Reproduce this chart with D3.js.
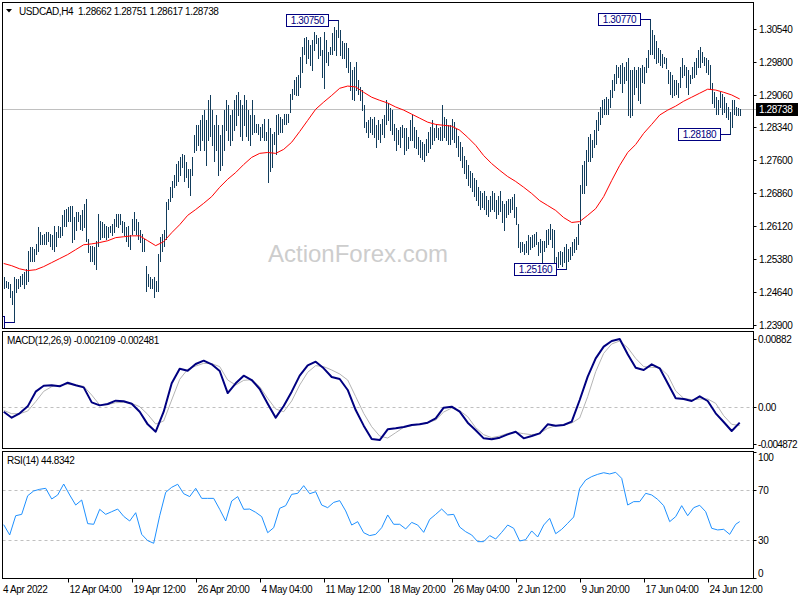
<!DOCTYPE html>
<html><head><meta charset="utf-8">
<script src="https://cdn.jsdelivr.net/npm/d3@7"></script>
<style>body{margin:0;background:#fff}svg{display:block}text{font-family:"Liberation Sans",Arial,sans-serif;letter-spacing:-0.4px}</style>
</head><body><svg id="c" width="800" height="600"></svg>
<script>
// ---------- DATA ----------
const symbol = "USDCAD,H4";
const lastOHLC = ["1.28662","1.28751","1.28617","1.28738"];
const lastClose = 1.28738;
const highs = [
1.2498,1.2489,1.2487,1.2482,1.2467,1.2497,1.2493,1.2493,1.2501,1.2504,1.2508,1.2516,1.2557,1.2564,1.2564,1.2561,1.2572,1.2609,1.2598,1.2591,
1.2594,1.2598,1.2598,1.2594,1.2591,1.2613,1.2598,1.2613,1.2609,1.2636,1.2647,1.2651,1.2654,1.2658,1.2658,1.2632,1.2643,1.2643,1.2636,1.2647,
1.2662,1.2673,1.2583,1.2568,1.2568,1.2564,1.2579,1.2639,1.2624,1.2621,1.2617,1.2613,1.2609,1.2613,1.2617,1.2628,1.2639,1.2639,1.2639,1.2624,
1.2621,1.2609,1.2613,1.2591,1.2628,1.2643,1.2628,1.2621,1.2602,1.2594,1.2583,1.2523,1.2504,1.2497,1.2493,1.2497,1.2489,1.2549,1.2587,1.2594,
1.2602,1.2666,1.2673,1.2699,1.2714,1.2726,1.2752,1.2759,1.2767,1.2774,1.2771,1.2756,1.2741,1.2741,1.2767,1.2816,1.2838,1.2838,1.2849,1.2860,
1.2872,1.2849,1.2894,1.2905,1.2872,1.2838,1.2860,1.2838,1.2816,1.2838,1.2872,1.2894,1.2883,1.2860,1.2872,1.2894,1.2905,1.2912,1.2894,1.2883,
1.2905,1.2894,1.2872,1.2860,1.2894,1.2860,1.2842,1.2842,1.2834,1.2842,1.2853,1.2823,1.2853,1.2831,1.2819,1.2823,1.2860,1.2864,1.2857,1.2853,
1.2864,1.2864,1.2864,1.2909,1.2920,1.2939,1.2947,1.2951,1.2992,1.3014,1.3033,1.3037,1.3029,1.3018,1.3029,1.3048,1.3041,1.3033,1.3037,1.3007,
1.3048,1.3029,1.3003,1.3014,1.3044,1.3059,1.3052,1.3075,1.3052,1.3026,1.3022,1.3022,1.3011,1.2981,1.2962,1.2969,1.2981,1.2939,1.2924,1.2917,
1.2883,1.2846,1.2849,1.2857,1.2853,1.2857,1.2838,1.2849,1.2842,1.2853,1.2860,1.2894,1.2887,1.2876,1.2872,1.2842,1.2831,1.2827,1.2834,1.2838,
1.2831,1.2831,1.2812,1.2849,1.2860,1.2834,1.2827,1.2812,1.2804,1.2801,1.2797,1.2808,1.2823,1.2834,1.2849,1.2831,1.2842,1.2831,1.2834,1.2883,
1.2857,1.2853,1.2838,1.2838,1.2853,1.2845,1.2830,1.2815,1.2800,1.2790,1.2770,1.2760,1.2750,1.2735,1.2730,1.2720,1.2715,1.2700,1.2690,1.2685,
1.2690,1.2680,1.2670,1.2680,1.2690,1.2685,1.2670,1.2680,1.2690,1.2669,1.2662,1.2669,1.2673,1.2673,1.2677,1.2684,1.2654,1.2617,1.2576,1.2576,
1.2572,1.2579,1.2591,1.2587,1.2591,1.2594,1.2598,1.2576,1.2583,1.2579,1.2579,1.2602,1.2606,1.2617,1.2606,1.2602,1.2542,1.2553,1.2557,1.2553,
1.2564,1.2572,1.2561,1.2564,1.2576,1.2583,1.2587,1.2617,1.2703,1.2748,1.2759,1.2782,1.2812,1.2819,1.2804,1.2827,1.2849,1.2868,1.2879,1.2894,
1.2898,1.2902,1.2898,1.2917,1.2939,1.2954,1.2973,1.2969,1.2973,1.2977,1.2969,1.2981,1.2988,1.2962,1.2962,1.2969,1.2962,1.2969,1.2966,1.2973,
1.2969,1.2988,1.3007,1.3077,1.3052,1.3041,1.3026,1.3011,1.3007,1.2999,1.2992,1.2988,1.2962,1.2958,1.2951,1.2939,1.2939,1.2932,1.2969,1.2988,
1.2973,1.2969,1.2962,1.2951,1.2969,1.2981,1.2988,1.3007,1.3014,1.3003,1.2992,1.2988,1.2984,1.2973,1.2932,1.2913,1.2902,1.2894,1.2913,1.2909,
1.2902,1.2887,1.2879,1.2868,1.2894,1.2894,1.2879,1.2876,1.28751];
const lows = [
1.2474,1.2476,1.2474,1.2452,1.2437,1.2397,1.2463,1.2474,1.2478,1.2482,1.2474,1.2482,1.2489,1.2534,1.2534,1.2534,1.2549,1.2557,1.2572,1.2572,
1.2572,1.2572,1.2579,1.2568,1.2561,1.2557,1.2568,1.2587,1.2587,1.2591,1.2613,1.2613,1.2624,1.2624,1.2576,1.2583,1.2602,1.2624,1.2606,1.2602,
1.2609,1.2579,1.2553,1.2534,1.2534,1.2527,1.2516,1.2568,1.2583,1.2587,1.2587,1.2583,1.2587,1.2598,1.2591,1.2598,1.2613,1.2609,1.2617,1.2598,
1.2591,1.2579,1.2568,1.2561,1.2594,1.2602,1.2594,1.2583,1.2576,1.2557,1.2557,1.2467,1.2478,1.2474,1.2474,1.2452,1.2467,1.2467,1.2534,1.2557,
1.2568,1.2583,1.2651,1.2669,1.2677,1.2699,1.2703,1.2714,1.2726,1.2744,1.2714,1.2722,1.2699,1.2681,1.2726,1.2777,1.2782,1.2793,1.2782,1.2804,
1.2782,1.2748,1.2804,1.2815,1.2793,1.2759,1.2782,1.2726,1.2737,1.2748,1.2782,1.2827,1.2804,1.2793,1.2804,1.2827,1.2838,1.2860,1.2815,1.2804,
1.2838,1.2815,1.2804,1.2793,1.2819,1.2823,1.2823,1.2819,1.2804,1.2812,1.2804,1.2804,1.2710,1.2735,1.2745,1.2797,1.2774,1.2819,1.2823,1.2823,
1.2842,1.2842,1.2846,1.2868,1.2898,1.2909,1.2906,1.2906,1.2924,1.2958,1.2999,1.2977,1.2988,1.2973,1.2962,1.3007,1.3022,1.2988,1.2996,1.2947,
1.2921,1.2981,1.2973,1.2999,1.2999,1.3007,1.2996,1.3037,1.2996,1.2988,1.2988,1.2969,1.2958,1.2917,1.2898,1.2894,1.2917,1.2909,1.2894,1.2872,
1.2834,1.2823,1.2812,1.2823,1.2819,1.2812,1.2789,1.2808,1.2801,1.2819,1.2812,1.2842,1.2849,1.2827,1.2819,1.2804,1.2782,1.2797,1.2789,1.2812,
1.2774,1.2782,1.2786,1.2804,1.2804,1.2789,1.2786,1.2774,1.2767,1.2763,1.2759,1.2771,1.2778,1.2786,1.2797,1.2804,1.2812,1.2808,1.2804,1.2804,
1.2812,1.2804,1.2797,1.2797,1.2808,1.2801,1.2790,1.2770,1.2760,1.2745,1.2730,1.2720,1.2705,1.2700,1.2690,1.2680,1.2670,1.2660,1.2650,1.2655,
1.2650,1.2640,1.2635,1.2645,1.2650,1.2645,1.2630,1.2640,1.2645,1.2621,1.2602,1.2632,1.2639,1.2643,1.2651,1.2632,1.2617,1.2564,1.2553,1.2557,
1.2549,1.2553,1.2549,1.2561,1.2564,1.2568,1.2572,1.2546,1.2553,1.2527,1.2557,1.2564,1.2572,1.2583,1.2564,1.2531,1.2519,1.2519,1.2527,1.2523,
1.2531,1.2516,1.2534,1.2538,1.2546,1.2553,1.2561,1.2572,1.2617,1.2687,1.2685,1.2703,1.2759,1.2759,1.2767,1.2789,1.2797,1.2827,1.2842,1.2857,
1.2864,1.2864,1.2864,1.2879,1.2902,1.2917,1.2932,1.2947,1.2932,1.2913,1.2932,1.2939,1.2861,1.2857,1.2861,1.2909,1.2924,1.2894,1.2887,1.2936,
1.2932,1.2958,1.2969,1.2999,1.2999,1.2988,1.2977,1.2981,1.2973,1.2969,1.2977,1.2966,1.2932,1.2909,1.2902,1.2906,1.2909,1.2902,1.2924,1.2947,
1.2951,1.2924,1.2909,1.2932,1.2943,1.2947,1.2954,1.2969,1.2969,1.2981,1.2973,1.2958,1.2954,1.2921,1.2887,1.2879,1.2864,1.2864,1.2879,1.2864,
1.2868,1.2857,1.2853,1.2818,1.2834,1.2864,1.2861,1.2861,1.28617];
// moving average (red), sampled every 4 bars
const maLine = [1.2528,1.2523,1.2516,1.2512,1.2514,1.2521,1.2530,1.2539,1.2548,1.2559,
1.2570,1.2572,1.2575,1.2579,1.2586,1.2588,1.2590,1.2590,1.2579,1.2568,
1.2577,1.2597,1.2615,1.2636,1.2649,1.2663,1.2678,1.2699,1.2717,1.2732,
1.2750,1.2766,1.2775,1.2777,1.2775,1.2784,1.2800,1.2824,1.2849,1.2874,
1.2890,1.2905,1.2921,1.2926,1.2924,1.2912,1.2901,1.2894,1.2888,1.2879,
1.2872,1.2863,1.2854,1.2845,1.2840,1.2838,1.2836,1.2827,1.2811,1.2793,
1.2770,1.2752,1.2737,1.2723,1.2712,1.2699,1.2685,1.2669,1.2658,1.2647,
1.2631,1.2620,1.2622,1.2636,1.2651,1.2678,1.2714,1.2748,1.2777,1.2795,
1.2820,1.2840,1.2861,1.2872,1.2881,1.2892,1.2901,1.2910,1.2919,1.2917,
1.2912,1.2906,1.2897];
// MACD main and signal, sampled every 4 bars
const macdMain = [-0.00068,-0.00146,-0.00089,0.00002,0.00194,0.00272,0.00277,0.00264,0.00311,0.00277,
0.00250,0.00054,0.00015,0.00033,0.00076,0.00068,0.00037,-0.00068,-0.00233,-0.00329,
-0.00068,0.00303,0.00494,0.00468,0.00555,0.00599,0.00551,0.00464,0.00176,0.00303,
0.00403,0.00346,0.00229,0.00037,-0.00146,0.00007,0.00194,0.00403,0.00538,0.00586,
0.00499,0.00386,0.00359,0.00216,-0.00046,-0.00250,-0.00425,-0.00438,-0.00298,-0.00285,
-0.00268,-0.00242,-0.00233,-0.00211,-0.00155,-0.00015,-0.00002,-0.00068,-0.00211,-0.00311,
-0.00416,-0.00429,-0.00407,-0.00364,-0.00329,-0.00416,-0.00386,-0.00351,-0.00233,-0.00250,
-0.00242,-0.00198,0.00085,0.00390,0.00629,0.00782,0.00856,0.00882,0.00682,0.00507,
0.00477,0.00551,0.00499,0.00303,0.00107,0.00098,0.00072,0.00133,0.00072,-0.00089,
-0.00203,-0.00320,-0.002109];
const macdSignal = [-0.00050,-0.00094,-0.00094,-0.00059,0.00063,0.00198,0.00259,0.00277,0.00290,0.00281,
0.00264,0.00150,0.00020,0.00024,0.00050,0.00054,0.00041,-0.00002,-0.00102,-0.00229,
-0.00189,0.00085,0.00355,0.00486,0.00529,0.00564,0.00560,0.00521,0.00346,0.00281,
0.00342,0.00351,0.00259,0.00107,-0.00033,-0.00068,0.00072,0.00281,0.00447,0.00534,
0.00521,0.00477,0.00425,0.00346,0.00129,-0.00089,-0.00264,-0.00386,-0.00412,-0.00342,
-0.00272,-0.00250,-0.00229,-0.00211,-0.00176,-0.00072,-0.00020,-0.00054,-0.00133,-0.00277,
-0.00368,-0.00407,-0.00386,-0.00351,-0.00338,-0.00355,-0.00368,-0.00351,-0.00285,-0.00250,
-0.00237,-0.00216,-0.00150,0.00129,0.00455,0.00695,0.00817,0.00856,0.00769,0.00629,
0.00521,0.00512,0.00507,0.00412,0.00203,0.00107,0.00089,0.00098,0.00098,0.00041,
-0.00120,-0.00233,-0.002481];
// RSI(14), sampled every 3 bars, last value at the last bar
const rsi = [42.4,34.2,49.5,50.6,65.4,69.2,70.5,71.3,62.8,66.0,
74.7,66.0,58.0,62.0,43.2,42.7,54.6,50.6,52.7,54.8,
49.0,45.3,51.9,34.7,29.7,27.6,49.5,68.1,72.1,74.5,
67.0,64.7,71.3,63.3,63.3,63.3,54.6,45.3,61.2,64.7,
54.6,54.8,52.2,48.8,36.0,40.0,55.4,57.5,66.5,67.3,
73.4,67.0,68.6,58.0,55.9,60.1,61.5,53.3,42.1,44.8,
36.0,33.7,34.7,40.0,50.1,42.7,42.7,
39.0,44.2,42.1,36.3,46.6,50.6,54.8,50.1,50.6,40.5,
36.8,34.2,28.9,28.9,33.7,31.0,36.3,42.1,39.5,29.4,
30.5,37.4,32.6,42.1,47.4,35.2,38.7,43.5,48.5,71.3,
77.9,80.6,82.4,83.7,82.7,84.0,79.2,58.0,60.7,60.7,
67.3,66.0,62.5,57.5,44.8,48.8,57.5,49.5,55.9,57.8,
52.7,39.5,38.2,38.7,34.7,42.7,44.8342];
const priceTicks = [1.30540,1.29800,1.29060,1.28340,1.27600,1.26860,1.26120,1.25380,1.24640,1.23900];
const macdTicks = [0.00882,0.00,-0.004872];
const macdTickLabels = ["0.00882","0.00","-0.004872"];
const rsiTicks = [100,70,30,0];
const rsiLevels = [70,30];
const dateLabels = ["4 Apr 2022","12 Apr 04:00","19 Apr 12:00","26 Apr 20:00","4 May 04:00","11 May 12:00","18 May 20:00","26 May 04:00","2 Jun 12:00","9 Jun 20:00","17 Jun 04:00","24 Jun 12:00"];
// swing labels: [text, bar index, price]
const swings = [["1.30750",167,1.30750],["1.30770",323,1.30770],["1.25160",281,1.25160],["1.28180",363,1.28180]];
const macdName = "MACD(12,26,9)", macdVals = ["-0.002109","-0.002481"];
const rsiName = "RSI(14)", rsiVal = "44.8342";

// ---------- LAYOUT ----------
const N = highs.length;
const L = 2.5, R = 753.5;
const P = {top:2.5, bot:328.5}, M = {top:331.5, bot:448.5}, Q = {top:451.5, bot:578.5};
const svg = d3.select("#c");
const x = d3.scaleLinear().domain([0, 368]).range([3.7, 739.7]);
const px = i => Math.round(x(i)) + 0.5;
const yP = d3.scaleLinear().domain([1.2390, 1.3054]).range([325, 29]);
const yM = d3.scaleLinear().domain([-0.004872, 0.00882]).range([443.8, 339]);
const yR = d3.scaleLinear().domain([0, 100]).range([578, 452.2]);
const ink = "#000";
const FS = 10;

const defs = svg.append("defs");
[["cp",P],["cm",M],["cr",Q]].forEach(([id,b]) => defs.append("clipPath").attr("id",id)
  .append("rect").attr("x",L).attr("y",b.top).attr("width",R-L).attr("height",b.bot-b.top));

// watermark
svg.append("text").attr("x",358).attr("y",262).attr("text-anchor","middle").style("letter-spacing","0px")
  .attr("font-size",24).attr("fill","#cdcdcd").text("ActionForex.com");

// ---------- MAIN PANEL ----------
const gP = svg.append("g").attr("clip-path","url(#cp)");
gP.append("line").attr("x1",L).attr("x2",R).attr("y1",Math.round(yP(lastClose))+0.5).attr("y2",Math.round(yP(lastClose))+0.5)
  .attr("stroke","#c0c0c0");
gP.append("g").selectAll("line").data(d3.range(N)).join("line")
  .attr("x1",px).attr("x2",px)
  .attr("y1",i=>Math.round(yP(highs[i]))).attr("y2",i=>Math.round(yP(lows[i]))+1)
  .attr("stroke","#123d5c").attr("stroke-width",1).attr("shape-rendering","crispEdges");
const maIdx = maLine.map((d,k)=>k*4);
gP.append("path").datum(maLine)
  .attr("d", d3.line().x((d,k)=>x(maIdx[k])).y(d=>yP(d)))
  .attr("fill","none").attr("stroke","#ff0000").attr("stroke-width",1);

// swing labels
const bw = 42, bh = 12;
swings.forEach(([t,i,p]) => {
  const xb = px(i), yb = Math.round(yP(p)) + 0.5;
  const x1 = Math.round(xb - 10.5) + 0.5;
  gP.append("line").attr("x1",x1).attr("x2",xb).attr("y1",yb).attr("y2",yb).attr("stroke","#000080");
  gP.append("rect").attr("x",x1-bw).attr("y",yb-bh/2).attr("width",bw).attr("height",bh)
    .attr("fill","#fff").attr("stroke","#000080");
  gP.append("text").attr("x",x1-bw/2).attr("y",yb+3.6).attr("text-anchor","middle")
    .attr("font-size",FS).attr("fill","#000080").text(t);
});
// partially visible label at the far-left low
{
  const i = 5, xb = px(i), yb = Math.round(yP(lows[i])) + 0.5, x1 = Math.round(xb - 10.5) + 0.5;
  gP.append("line").attr("x1",x1).attr("x2",xb).attr("y1",yb).attr("y2",yb).attr("stroke","#000080");
  gP.append("rect").attr("x",x1-bw).attr("y",yb-bh/2).attr("width",bw).attr("height",bh)
    .attr("fill","#fff").attr("stroke","#000080");
}

// header
svg.append("path").attr("d","M6,9L12,9L9,12.5Z").attr("fill",ink);
svg.append("text").attr("x",19).attr("y",15).attr("font-size",FS).attr("fill",ink)
  .attr("xml:space","preserve").text(symbol + "  " + lastOHLC.join(" "));

// price axis
const gA = svg.append("g");
priceTicks.forEach(v => {
  const yy = Math.round(yP(v)) + 0.5;
  gA.append("line").attr("x1",R).attr("x2",R+3).attr("y1",yy).attr("y2",yy).attr("stroke",ink);
  gA.append("text").attr("x",759).attr("y",yy+3.5).attr("font-size",FS).attr("fill",ink).text(v.toFixed(5));
});
{
  const yy = Math.round(yP(lastClose)) + 0.5;
  gA.append("line").attr("x1",R).attr("x2",757).attr("y1",yy).attr("y2",yy).attr("stroke","#c0c0c0");
  gA.append("rect").attr("x",756).attr("y",yy-6.5).attr("width",42).attr("height",13).attr("fill","#000");
  gA.append("text").attr("x",759).attr("y",yy+3.5).attr("font-size",FS).attr("fill","#fff").text(lastClose.toFixed(5));
}

// ---------- MACD PANEL ----------
const gM = svg.append("g").attr("clip-path","url(#cm)");
gM.append("line").attr("x1",L).attr("x2",R).attr("y1",Math.round(yM(0))+0.5).attr("y2",Math.round(yM(0))+0.5)
  .attr("stroke","#c0c0c0").attr("stroke-dasharray","3,3");
const mIdx = macdMain.map((d,k)=>k*4);
gM.append("path").datum(macdSignal).attr("d", d3.line().x((d,k)=>x(mIdx[k])).y(d=>yM(d)))
  .attr("fill","none").attr("stroke","#b4b4b4").attr("stroke-width",1);
gM.append("path").datum(macdMain).attr("d", d3.line().x((d,k)=>x(mIdx[k])).y(d=>yM(d)))
  .attr("fill","none").attr("stroke","#000080").attr("stroke-width",2).attr("stroke-linejoin","round");
svg.append("text").attr("x",7).attr("y",344).attr("font-size",FS).attr("fill",ink)
  .text(macdName + " " + macdVals.join(" "));
macdTicks.forEach((v,k) => {
  const yy = Math.round(yM(v)) + 0.5;
  gA.append("line").attr("x1",R).attr("x2",R+3).attr("y1",yy).attr("y2",yy).attr("stroke",ink);
  gA.append("text").attr("x",758).attr("y",yy+3.5).attr("font-size",FS).attr("fill",ink)
    .style("letter-spacing", macdTickLabels[k].length > 7 ? "-0.7px" : null).text(macdTickLabels[k]);
});

// ---------- RSI PANEL ----------
const gR = svg.append("g").attr("clip-path","url(#cr)");
rsiLevels.forEach(v => gR.append("line").attr("x1",L).attr("x2",R)
  .attr("y1",Math.round(yR(v))+0.5).attr("y2",Math.round(yR(v))+0.5)
  .attr("stroke","#c0c0c0").attr("stroke-dasharray","3,3"));
const rIdx = rsi.map((d,k)=> k < rsi.length-1 ? k*3 : N-1);
gR.append("path").datum(rsi).attr("d", d3.line().x((d,k)=>x(rIdx[k])).y(d=>yR(d)))
  .attr("fill","none").attr("stroke","#1e90ff").attr("stroke-width",1);
svg.append("text").attr("x",7).attr("y",464).attr("font-size",FS).attr("fill",ink)
  .text(rsiName + " " + rsiVal);
rsiTicks.forEach(v => {
  const yy = Math.round(yR(v)) + 0.5;
  const yl = v===100 ? yy+5 : v===0 ? yy-5 : yy;
  gA.append("line").attr("x1",R).attr("x2",R+3).attr("y1",yy).attr("y2",yy).attr("stroke",ink);
  gA.append("text").attr("x",758).attr("y",yl+3.5).attr("font-size",FS).attr("fill",ink).text(v);
});

// panel borders
[P,M,Q].forEach(b => svg.append("rect").attr("x",L).attr("y",b.top).attr("width",R-L).attr("height",b.bot-b.top)
  .attr("fill","none").attr("stroke",ink));

// ---------- TIME AXIS ----------
dateLabels.forEach((t,k) => {
  const xi = Math.round(x(k*32)) + 0.5;
  if (k > 0) svg.append("line").attr("x1",xi).attr("x2",xi).attr("y1",Q.bot).attr("y2",Q.bot+4).attr("stroke",ink);
  svg.append("text").attr("x", k===0 ? 3 : xi+1).attr("y",593).attr("font-size",FS).attr("fill",ink).text(t);
});
</script></body></html>
